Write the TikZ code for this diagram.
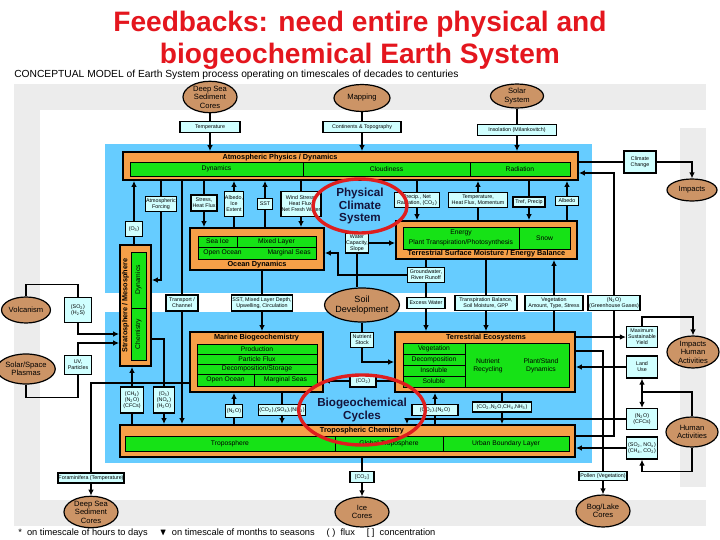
\documentclass[tikz,border=0pt]{standalone}
\usepackage{fontspec}
\setmainfont{Liberation Sans}
\usepackage{amssymb}
\definecolor{titlered}{RGB}{228,22,30}
\definecolor{bandgray}{RGB}{236,236,236}
\definecolor{skyblue}{RGB}{102,204,255}
\definecolor{boxorange}{RGB}{246,160,72}
\definecolor{cellgreen}{RGB}{22,226,22}
\definecolor{tagcyan}{RGB}{208,255,255}
\definecolor{corebrown}{RGB}{204,148,102}
\definecolor{ringred}{RGB}{222,30,30}
\definecolor{ringtext}{RGB}{20,20,60}
\usetikzlibrary{arrows.meta,shapes.geometric}

\begin{document}
\begin{tikzpicture}[x=0.25mm,y=-0.25mm,
    sz/.style 2 args={minimum width=#1*0.25mm,minimum height=#2*0.25mm},
    obox/.style={draw,line width=0.45mm,fill=boxorange,inner sep=0pt},
    gcell/.style={draw,line width=0.2mm,fill=cellgreen,inner sep=0pt,align=center,font=\fontsize{4.8}{5.4}\selectfont},
    tag/.style={draw,line width=0.3mm,fill=tagcyan,inner sep=0.4pt,align=center,font=\fontsize{3.8}{4.3}\selectfont},
    core/.style={ellipse,draw,line width=0.3mm,fill=corebrown,inner sep=0pt,align=center,font=\fontsize{5.4}{6}\selectfont},
    ring/.style={ellipse,draw=ringred,line width=0.85mm,inner sep=0pt,align=center,text=ringtext,font=\fontsize{8.3}{8.8}\selectfont\bfseries},
    lbl/.style={inner sep=0pt,font=\fontsize{5.2}{5.6}\selectfont\bfseries},
    txt/.style={inner sep=0pt,align=center,font=\fontsize{4.8}{5.4}\selectfont},
    ln/.style={line width=0.35mm},
    arr/.style={-{Latex[length=1.5mm,width=1.4mm]},line width=0.35mm}]
  \useasboundingbox (0,0) rectangle (720,540);
  \fill[white] (0,0) rectangle (720,540);
  \fill[bandgray] (14,84) rectangle (706,110);
  \fill[bandgray] (14,110) rectangle (40,500);
  \fill[bandgray] (14,500) rectangle (706,526);
  \fill[bandgray] (680,128) rectangle (706,487);
  \fill[skyblue] (105,144) rectangle (592,463);
  \fill[white] (105,293) rectangle (592,312);

  \node[anchor=base,inner sep=0pt,text=titlered,font=\fontsize{20}{22}\selectfont\bfseries] (title1) at (360,31) {Feedbacks: need entire physical and};
  \node[anchor=base,inner sep=0pt,text=titlered,font=\fontsize{20}{22}\selectfont\bfseries] (title2) at (360,63) {biogeochemical Earth System};
  \node[anchor=base west,inner sep=0pt,font=\fontsize{7.3}{8}\selectfont] (sub) at (14,77) {CONCEPTUAL MODEL of Earth System process operating on timescales of decades to centuries};

  \node[obox,sz={455}{28}] (atm) at (350.5,166) {};
  \node[lbl] (atmt) at (280,157.5) {Atmospheric Physics / Dynamics};
  \node[gcell,sz={173}{14}] (dyn) at (216.5,169) {Dynamics};
  \node[gcell,sz={167}{14}] (cld) at (386.5,169) {Cloudiness};
  \node[gcell,sz={100}{14}] (rad) at (520,169) {Radiation};

  \node[obox,sz={134}{42}] (ocean) at (257,249) {};
  \node[gcell,sz={39}{11}] (seaice) at (217.5,241.5) {Sea Ice};
  \node[gcell,sz={79}{11}] (mixed) at (276.5,241.5) {Mixed Layer};
  \node[gcell,sz={118}{12}] (oceanlow) at (257,253) {Open Ocean\hspace{6.5mm}Marginal Seas};
  \node[lbl] (oceant) at (257,264.5) {Ocean Dynamics};

  \node[obox,sz={181}{38}] (tsurf) at (486.5,240) {};
  \node[gcell,sz={116}{22}] (energy) at (461,238) {Energy\\[1.5pt]Plant Transpiration/Photosynthesis};
  \node[gcell,sz={51}{22}] (snow) at (544.5,238) {Snow};
  \node[lbl] (tsurft) at (486.5,254) {Terrestrial Surface Moisture / Energy Balance};

  \node[obox,sz={31}{121}] (strat) at (135.5,305.5) {};
  \node[lbl,rotate=90] (stratt) at (125.5,305.5) {Stratosphere / Mesosphere};
  \node[gcell,rotate=90,sz={56}{15}] (sdyn) at (138.5,280) {Dynamics};
  \node[gcell,rotate=90,sz={52}{15}] (schem) at (138.5,334) {Chemistry};

  \node[obox,sz={133}{60}] (marine) at (256.5,362) {};
  \node[lbl] (marinet) at (256.5,337.5) {Marine Biogeochemistry};
  \node[gcell,sz={120}{10}] (prod) at (257,349) {Production};
  \node[gcell,sz={120}{10}] (pflux) at (257,359) {Particle Flux};
  \node[gcell,sz={120}{10}] (decm) at (257,369) {Decomposition/Storage};
  \node[gcell,sz={57}{12}] (openm) at (225.5,380) {Open Ocean};
  \node[gcell,sz={63}{12}] (margm) at (285.5,380) {Marginal Seas};

  \node[obox,sz={180}{60}] (teco) at (485,362) {};
  \node[lbl] (tecot) at (486,338) {Terrestrial Ecosystems};
  \node[gcell,sz={166}{44}] (tecog) at (486,365) {};
  \node[gcell,sz={62}{11}] (veg) at (434,348.5) {Vegetation};
  \node[gcell,sz={62}{11}] (decomp) at (434,359.5) {Decomposition};
  \node[gcell,sz={62}{11}] (insol) at (434,370.5) {Insoluble};
  \node[gcell,sz={62}{11}] (sol) at (434,381.5) {Soluble};
  \node[txt] (nutrec) at (488,366) {Nutrient\\Recycling};
  \node[txt] (plant) at (541,366) {Plant/Stand\\Dynamics};

  \node[obox,sz={455}{32}] (trop) at (347.5,441) {};
  \node[lbl] (tropt) at (362,430.5) {Tropospheric Chemistry};
  \node[gcell,sz={210}{15}] (tcell1) at (230,443.5) {Troposphere};
  \node[gcell,sz={108}{15}] (tcell2) at (389,443.5) {Global Troposphere};
  \node[gcell,sz={126}{15}] (tcell3) at (506,443.5) {Urban Boundary Layer};

  \node[core,sz={54}{30}] (dsc1) at (210,97) {Deep Sea\\Sediment\\Cores};
  \node[core,sz={56}{27}] (map) at (362,98) {Mapping};
  \node[core,sz={53}{24}] (solar) at (517,96) {Solar\\System};
  \node[core,sz={50}{22}] (impacts) at (692,190) {Impacts};
  \node[core,sz={52}{32}] (iha) at (693,352) {Impacts\\Human\\Activities};
  \node[core,sz={52}{30}] (ha) at (692,432) {Human\\Activities};
  \node[core,sz={48}{26}] (volc) at (26,310) {Volcanism};
  \node[core,sz={48}{30}] (ssp) at (26,369) {Solar/Space\\Plasmas};
  \node[core,sz={68}{34},font=\fontsize{6.4}{7.4}\selectfont] (soil) at (362,305) {Soil\\Development};
  \node[core,sz={54}{30}] (dsc2) at (91,512) {Deep Sea\\Sediment\\Cores};
  \node[core,sz={54}{30}] (ice) at (362,512) {Ice\\Cores};
  \node[core,sz={54}{32}] (bog) at (603,511) {Bog/Lake\\Cores};

  \node[tag,sz={60}{11}] (tmpb) at (210,127) {Temperature};
  \node[tag,sz={78}{11}] (cont) at (362,127) {Continents \& Topography};
  \node[tag,sz={79}{11}] (insolb) at (517,130) {Insolation (Milankovitch)};
  \node[tag,sz={32}{22}] (clim) at (640,162) {Climate\\Change};
  \node[tag,sz={31}{15}] (atf) at (161,204) {Atmospheric\\Forcing};
  \node[tag,sz={26}{16}] (sthf) at (204,203) {Stress,\\Heat Flux};
  \node[tag,sz={19}{25}] (albo) at (234,204) {Albedo,\\Ice\\Extent};
  \node[tag,sz={15}{11}] (sst) at (265,204) {SST};
  \node[tag,sz={35}{25}] (wshf) at (301,204) {Wind Stress,\\Heat Flux,\\Net Fresh Water};
  \node[tag,sz={45}{15}] (prec) at (417,200) {Precip., Net\\Radiation, (CO\textsubscript{2})};
  \node[tag,sz={59}{15}] (thf) at (478,200) {Temperature,\\Heat Flux, Momentum};
  \node[tag,sz={32}{10}] (tref) at (529,202) {Tref, Precip};
  \node[tag,sz={23}{9}] (albl) at (567,201) {Albedo};
  \node[tag,sz={17}{15}] (ozb) at (134,229) {(O\textsubscript{3})};
  \node[tag,sz={18}{20}] (wcap) at (357,243) {Water\\Capacity,\\Slope};
  \node[tag,sz={37}{15}] (grw) at (426,275) {Groundwater,\\River Runoff};
  \node[tag,sz={32}{16}] (trch) at (182,303) {Transport /\\Channel};
  \node[tag,sz={60}{16}] (sstm) at (262,303) {SST, Mixed Layer Depth,\\Upwelling, Circulation};
  \node[tag,sz={38}{11}] (exw) at (426,303) {Excess Water};
  \node[tag,sz={62}{15}] (trbal) at (486,303) {Transpiration Balance,\\Soil Moisture, GPP};
  \node[tag,sz={58}{15}] (vega) at (554,303) {Vegetation\\Amount, Type, Stress};
  \node[tag,sz={52}{15}] (ghg) at (614,303) {(N\textsubscript{2}O)\\(Greenhouse Gases)};
  \node[tag,sz={27}{25}] (so2v) at (78,310) {(SO\textsubscript{2})\\(H\textsubscript{2}S)};
  \node[tag,sz={27}{19}] (uvp) at (78,365) {UV,\\Particles};
  \node[tag,sz={23}{15}] (nutr) at (362,340) {Nutrient\\Stock};
  \node[tag,sz={31}{21}] (msy) at (642,337) {Maximum\\Sustainable\\Yield};
  \node[tag,sz={31}{22}] (luse) at (642,367) {Land\\Use};
  \node[tag,sz={26}{12}] (co2m) at (363,381) {(CO\textsubscript{2})};
  \node[tag,sz={23}{26}] (chb) at (132,400) {(CH\textsubscript{4})\\(N\textsubscript{2}O)\\(CFCs)};
  \node[tag,sz={21}{26}] (ohb) at (164,400) {(O\textsubscript{3})\\(NO\textsubscript{x})\\(H\textsubscript{2}O)};
  \node[tag,sz={17}{13}] (n2om) at (234,411) {(N\textsubscript{2}O)};
  \node[tag,sz={47}{11}] (csn) at (282,410) {(CO\textsubscript{2}),(SO\textsubscript{4}),(NH\textsubscript{3})};
  \node[tag,sz={46}{11}] (cnt) at (435,410) {(CO\textsubscript{2}),(N\textsubscript{2}O)};
  \node[tag,sz={59}{10}] (cnch) at (502,407) {(CO\textsubscript{2},N\textsubscript{2}O,CH\textsubscript{4},NH\textsubscript{3})};
  \node[tag,sz={31}{21}] (ncfc) at (642,419) {(N\textsubscript{2}O)\\(CFCs)};
  \node[tag,sz={31}{22}] (sonx) at (642,448) {(SO\textsubscript{2}, NO\textsubscript{x})\\(CH\textsubscript{4}, CO\textsubscript{2})};
  \node[tag,sz={64}{10}] (foram) at (91,478) {Foraminifera (Temperature)};
  \node[tag,sz={24}{11}] (co2i) at (362,477) {[CO\textsubscript{2}]};
  \node[tag,sz={48}{9}] (poll) at (603,476) {Pollen (Vegetation)};

  \draw[ln] (dsc1) -- (tmpb); \draw[arr] (tmpb) -- (tmpb |- atm.north);
  \draw[ln] (map) -- (cont); \draw[arr] (cont) -- (cont |- atm.north);
  \draw[ln] (solar) -- (insolb); \draw[arr] (insolb) -- (insolb |- atm.north);
  \draw[ln] (atm.east |- clim) -- (clim.west); \draw[arr] (clim.east) -| (impacts.north);
  \draw[arr] (ghg.north) |- (atm.east |- 0,173); \draw[ln] (ghg.south) |- (trop.east |- 0,436);

  \draw[arr] (ozb.north) -- (ozb.north |- atm.south); \draw[ln] (ozb.south) -- (ozb.south |- strat.north);
  \draw[ln] (atf.north) -- (atf.north |- atm.south); \draw[arr] (atf.south) |- (strat.east |- sdyn);
  \draw[ln] (trch.north) -- (trch.north |- atm.south); \draw[arr] (trch.south) -- (trch.south |- trop.north);
  \draw[ln] (sthf.north) -- (sthf.north |- atm.south); \draw[arr] (sthf.south) -- (sthf.south |- ocean.north);
  \draw[arr] (albo.north) -- (albo.north |- atm.south); \draw[ln] (albo.south) -- (albo.south |- ocean.north);
  \draw[arr] (sst.north) -- (sst.north |- atm.south); \draw[ln] (sst.south) -- (sst.south |- ocean.north);
  \draw[ln] (wshf.north) -- (wshf.north |- atm.south); \draw[arr] (wshf.south) -- (wshf.south |- ocean.north);
  \draw[ln] (prec.north) -- (prec.north |- atm.south); \draw[arr] (prec.south) -- (prec.south |- tsurf.north);
  \draw[arr] (thf.north) -- (thf.north |- atm.south); \draw[ln] (thf.south) -- (thf.south |- tsurf.north);
  \draw[ln] (tref.north) -- (tref.north |- atm.south); \draw[arr] (tref.south) -- (tref.south |- tsurf.north);
  \draw[arr] (albl.north) -- (albl.north |- atm.south); \draw[ln] (albl.south) -- (albl.south |- tsurf.north);

  \draw[arr] (wcap.east) -- (wcap.east -| tsurf.west); \draw[ln] (wcap.south) -- (wcap.south |- soil.north);
  \draw[ln] (grw.north) -- (grw.north |- tsurf.south);
  \draw[arr] (grw.west) -| (338,253) -- (ocean.east |- 0,253);
  \draw[ln] (grw) -- (exw); \draw[arr] (exw.south) -- (exw.south |- teco.north);
  \draw[ln] (trbal.north) -- (trbal.north |- tsurf.south); \draw[arr] (trbal.south) -- (trbal.south |- teco.north);
  \draw[arr,line width=0.6mm] (vega.north) -- (vega.north |- tsurf.south); \draw[ln,line width=0.6mm] (vega.south) -- (vega.south |- teco.north);
  \draw[ln] (sstm.north) -- (sstm.north |- ocean.south); \draw[arr] (sstm.south) -- (sstm.south |- marine.north);
  \draw[ln] (soil) -- (nutr); \draw[arr] (nutr.south) |- (teco.west |- 0,362);
  \draw[arr] (co2m.west) -- (co2m.west -| marine.east); \draw[ln] (co2m.east) -- (co2m.east -| teco.west);

  \draw[ln] (volc.north) -- ++(0,-12) -| (so2v.north); \draw[arr] (so2v.south) |- (strat.west |- schem);
  \draw[ln] (ssp.south) -- ++(0,13) -| (uvp.south); \draw[arr] (uvp.north) |- (strat.west |- 0,343);
  \draw[ln] (strat.east |- 0,339) -| (ohb.north); \draw[arr] (ohb.south) -- (ohb.south |- trop.north);
  \draw[arr] (chb.north) -- (chb.north |- strat.south); \draw[ln] (chb.south) -- (chb.south |- trop.north);
  \draw[ln] (marine.west |- 0,383) -| (foram.north); \draw[arr] (foram) -- (dsc2);

  \draw[arr] (n2om.north) -- (n2om.north |- marine.south); \draw[ln] (n2om.south) -- (n2om.south |- trop.north);
  \draw[ln] (csn.north) -- (csn.north |- marine.south); \draw[arr] (csn.south) -- (csn.south |- trop.north);
  \draw[arr] (cnt.north) -- (cnt.north |- teco.south); \draw[ln] (cnt.south) -- (cnt.south |- trop.north);
  \draw[ln] (cnch.north) -- (cnch.north |- teco.south); \draw[arr] (cnch.south) -- (cnch.south |- trop.north);
  \draw[ln] (co2i.north) -- (co2i.north |- trop.south); \draw[arr] (co2i) -- (ice);

  \draw[ln,line width=0.6mm] (teco.east |- 0,351) -| (poll.north); \draw[arr] (poll) -- (bog);
  \draw[arr] (teco.east |- msy) -- (msy.west);
  \draw[arr] (msy.north) -- ++(0,-9) -| (iha.north);
  \draw[arr] (luse.west) -- (luse.west -| teco.east);
  \coordinate (hajoin) at (642,392);
  \draw[ln] (ha.north) |- (hajoin); \draw[arr] (hajoin) -- (luse.south); \draw[arr] (hajoin) -- (ncfc.north);
  \draw[arr] (ha.south) -- ++(0,24) -| (sonx.south);
  \draw[arr] (ncfc.west) -| (trop.north -| 407,0);
  \draw[arr] (sonx.west) -- (sonx.west -| trop.east);

  \node[ring,sz={94}{54}] (pcs) at (360,206) {Physical\\Climate\\System};
  \node[ring,sz={114}{70},font=\fontsize{8.3}{9.8}\selectfont\bfseries] (bgc) at (362,410) {Biogeochemical\\Cycles};

  \node[anchor=base west,inner sep=0pt,font=\fontsize{6.6}{7.5}\selectfont] (legend) at (18,535) {* \ on timescale of hours to days \quad $\blacktriangledown$ \ on timescale of months to seasons \quad (\;) \ flux \quad [\;] \ concentration};
\end{tikzpicture}
\end{document}
